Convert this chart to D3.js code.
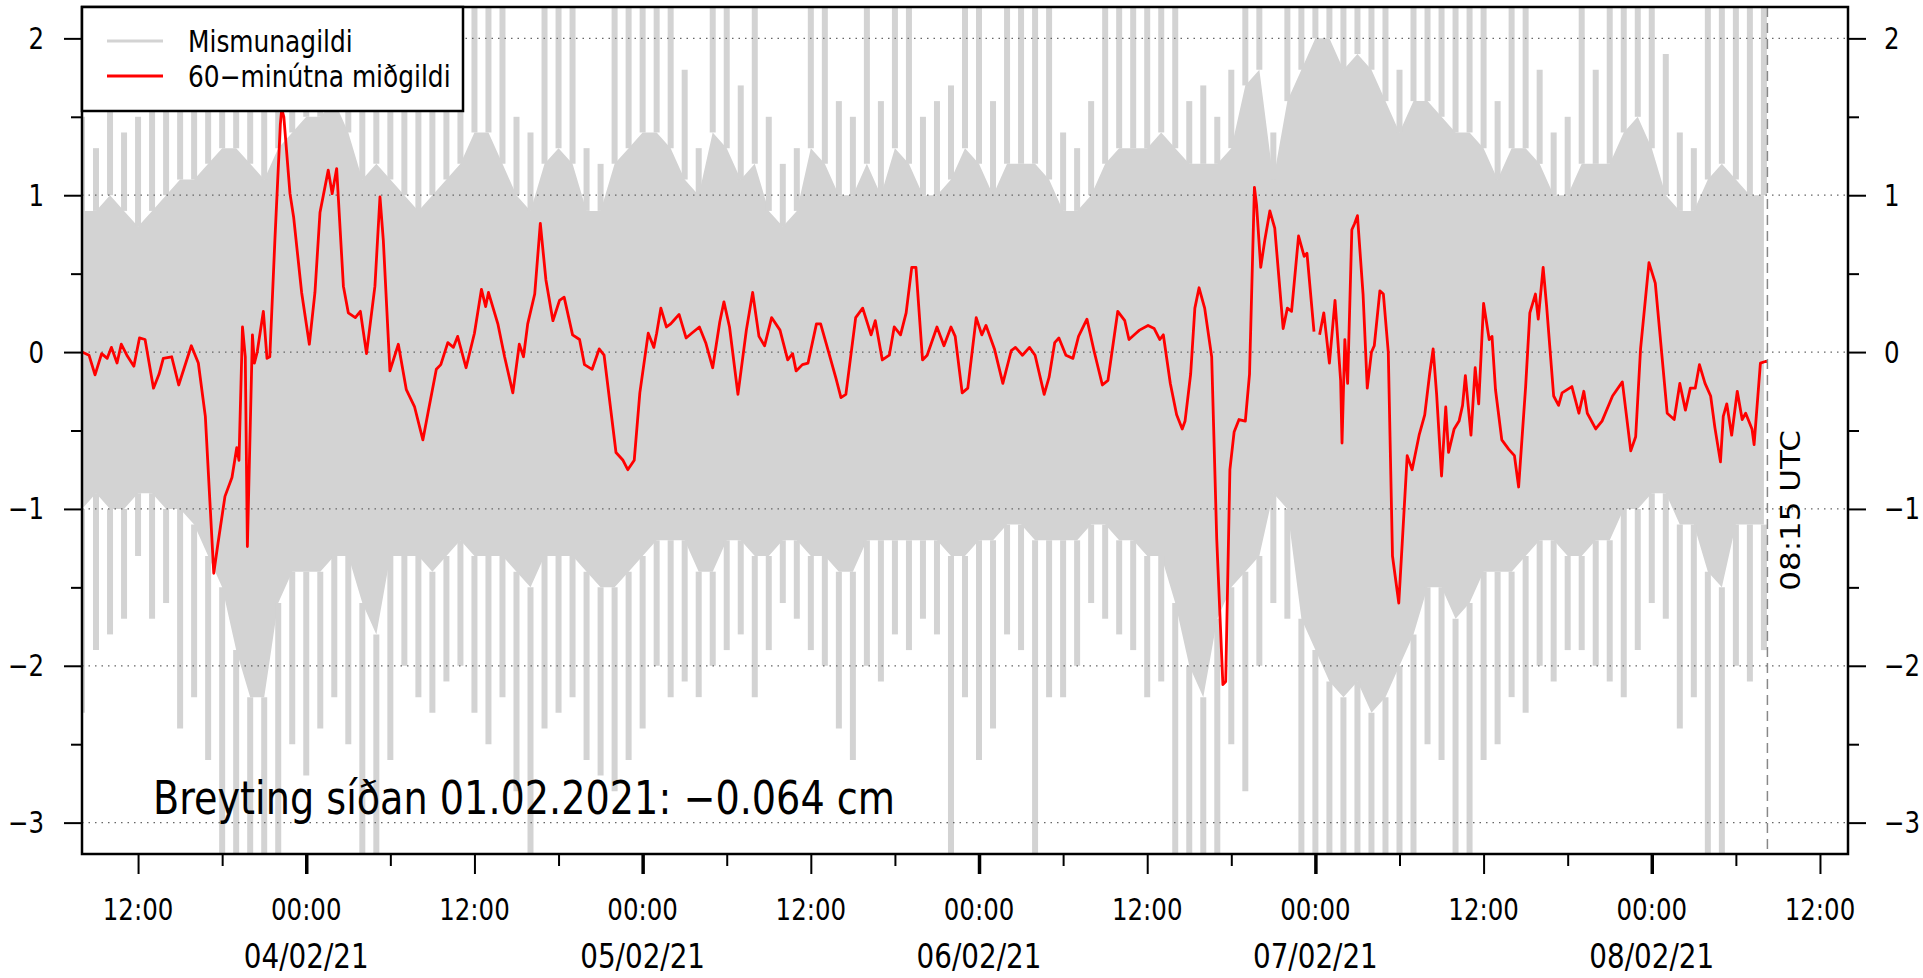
<!DOCTYPE html>
<html><head><meta charset="utf-8">
<script src="https://cdn.jsdelivr.net/npm/d3@7"></script>
<style>
html,body{margin:0;padding:0;background:#fff;overflow:hidden;}
svg{display:block;}
text{font-family:"DejaVu Sans",sans-serif;fill:#000;}
</style></head><body>
<svg id="chart" width="1923" height="978"></svg>
<script>
// ---------- data ----------
const baseTimeUTC = Date.UTC(2021, 1, 4, 0, 0);   // 04/02/21 00:00 UTC, hours are counted from here
const xLimitHours = [-16, 110];
const yLimits = [-3.2, 2.2];
const yTickValues = [-3, -2, -1, 0, 1, 2];
const yTickLabels = ["−3", "−2", "−1", "0", "1", "2"];
const yMinorTickValues = [-2.5, -1.5, -0.5, 0.5, 1.5];
const xMinorTickHours = [-6, 6, 18, 30, 42, 54, 66, 78, 90, 102];
const xTimeLabelHours = [-12, 0, 12, 24, 36, 48, 60, 72, 84, 96, 108];
const xTimeLabels = ["12:00", "00:00", "12:00", "00:00", "12:00", "00:00", "12:00", "00:00", "12:00", "00:00", "12:00"];
const dateLabelHours = [0, 24, 48, 72, 96];
const dateLabels = ["04/02/21", "05/02/21", "06/02/21", "07/02/21", "08/02/21"];
const lastObsHour = 104.25;
const lastObsLabel = "08:15 UTC";
const legendLabels = ["Mismunagildi", "60−minútna miðgildi"];
const annotationText = "Breyting síðan 01.02.2021: −0.064 cm";

// grey raw differences: hourly extremes (spikes) and dense band, starting at hour -16
const grayStartHour = -16;
const grayMax = [
  1.5,1.3,1.6,1.4,1.5,1.6,1.7,1.8,
  2.2,2.2,2.2,2.2,2.2,1.8,2.2,2.2,
  2.2,2.2,2.2,2.2,2.0,2.2,2.2,2.2,
  1.9,1.8,2.2,2.2,2.2,2.2,2.2,1.5,
  1.4,2.2,2.2,2.2,1.3,1.2,2.2,2.2,
  2.2,2.2,2.2,1.8,1.3,2.2,2.2,1.7,
  2.2,1.5,1.2,1.3,2.2,2.2,1.6,1.5,
  2.2,1.6,2.2,2.2,1.5,1.6,1.7,2.2,
  2.2,1.6,2.2,2.2,2.2,2.2,1.4,1.3,
  1.6,2.2,2.2,2.2,2.2,2.2,2.2,1.6,
  1.7,1.5,1.8,2.2,2.2,1.4,2.2,2.2,
  2.2,2.2,2.2,2.2,2.2,2.2,1.8,2.2,
  2.2,2.2,2.2,2.2,2.2,1.6,2.2,2.2,
  1.8,1.4,1.5,2.2,1.8,2.2,2.2,2.2,
  2.2,1.9,1.4,1.3,2.2,2.2,2.2,2.2,2.2];
const grayHi = [
  0.9,0.9,1.0,0.9,0.8,0.9,1.0,1.1,
  1.1,1.2,1.3,1.3,1.2,1.1,1.3,1.4,
  1.5,1.5,1.6,1.4,1.1,1.2,1.1,1.0,
  0.9,1.0,1.1,1.2,1.4,1.4,1.2,1.0,
  0.9,1.2,1.3,1.2,0.9,0.9,1.2,1.3,
  1.4,1.4,1.3,1.1,1.0,1.4,1.3,1.1,
  1.2,0.9,0.8,0.9,1.3,1.2,1.0,1.0,
  1.2,1.0,1.3,1.2,1.0,1.0,1.1,1.3,
  1.2,1.0,1.2,1.2,1.2,1.1,0.9,0.9,
  1.0,1.2,1.3,1.3,1.3,1.4,1.3,1.2,
  1.2,1.2,1.3,1.7,1.8,1.1,1.6,1.8,
  2.0,2.0,1.8,1.9,1.8,1.6,1.4,1.6,
  1.6,1.5,1.4,1.4,1.3,1.1,1.3,1.3,
  1.2,1.0,1.0,1.2,1.2,1.2,1.4,1.5,
  1.3,1.0,0.9,0.9,1.1,1.2,1.1,1.0,1.0];
const grayLo = [
  -1.0,-0.9,-1.0,-1.0,-0.9,-0.9,-1.0,-1.0,
  -1.1,-1.3,-1.5,-1.9,-2.2,-2.2,-1.6,-1.4,
  -1.4,-1.4,-1.3,-1.3,-1.6,-1.8,-1.3,-1.3,
  -1.3,-1.4,-1.3,-1.2,-1.3,-1.3,-1.3,-1.4,
  -1.5,-1.3,-1.3,-1.3,-1.4,-1.5,-1.5,-1.4,
  -1.3,-1.2,-1.2,-1.2,-1.4,-1.4,-1.2,-1.2,
  -1.3,-1.3,-1.2,-1.2,-1.3,-1.3,-1.4,-1.4,
  -1.2,-1.2,-1.2,-1.2,-1.2,-1.2,-1.3,-1.3,
  -1.2,-1.2,-1.1,-1.1,-1.2,-1.2,-1.2,-1.2,
  -1.1,-1.1,-1.2,-1.2,-1.3,-1.3,-1.6,-2.0,
  -2.2,-1.7,-1.5,-1.4,-1.3,-0.9,-1.0,-1.7,
  -1.9,-2.1,-2.2,-2.1,-2.3,-2.2,-2.0,-1.8,
  -1.5,-1.5,-1.7,-1.6,-1.4,-1.4,-1.4,-1.3,
  -1.2,-1.2,-1.3,-1.3,-1.2,-1.2,-1.0,-1.0,
  -0.9,-0.9,-1.1,-1.1,-1.4,-1.5,-1.1,-1.1,-1.1];
const grayMin = [
  -2.3,-1.9,-1.8,-1.7,-1.3,-1.7,-1.6,-2.4,
  -2.2,-2.6,-3.2,-3.2,-3.2,-3.2,-3.2,-2.5,
  -2.7,-2.4,-2.2,-2.5,-3.2,-3.2,-2.6,-2.0,
  -2.2,-2.3,-2.1,-2.0,-2.3,-2.5,-2.2,-2.8,
  -3.2,-2.4,-2.3,-2.2,-2.6,-2.7,-2.8,-2.6,
  -2.4,-2.0,-2.2,-2.1,-2.2,-2.0,-1.9,-1.8,
  -2.2,-1.9,-1.6,-1.7,-1.9,-2.0,-2.4,-2.6,
  -2.0,-2.1,-1.8,-1.9,-1.7,-1.8,-3.2,-2.2,
  -2.6,-2.4,-1.8,-1.9,-3.2,-2.2,-2.2,-2.0,
  -1.6,-1.7,-1.8,-1.9,-2.2,-2.1,-3.2,-3.2,
  -3.2,-3.2,-2.5,-2.8,-2.0,-1.6,-1.7,-3.2,
  -3.2,-3.2,-3.2,-3.2,-3.2,-3.2,-3.2,-3.2,
  -2.5,-2.6,-3.2,-3.2,-2.6,-2.5,-2.2,-2.3,
  -2.0,-2.1,-1.9,-1.9,-2.0,-2.1,-2.2,-1.9,
  -1.6,-1.7,-2.4,-2.2,-3.2,-3.2,-2.0,-2.1,-1.9];

// 60-minute median (red), hours from 04/02/21 00:00 UTC; null = gap
const redHours = [
  -16.0,-15.5,-15.07,-14.6,-14.2,-13.9,-13.5,-13.2,-12.8,-12.3,-11.9,-11.5,-10.9,-10.5,-10.2,-9.6,-9.1,-8.2,-7.7,-7.2,
  -6.6,-6.3,-5.8,-5.3,-4.96,-4.8,-4.55,-4.35,-4.2,-3.84,-3.7,-3.5,-3.06,-2.8,-2.6,-2.23,-1.85,-1.75,-1.6,-1.16,
  -0.9,-0.33,0.22,0.62,0.98,1.57,1.85,2.17,2.65,3.0,3.5,3.86,4.3,4.9,5.26,5.5,5.97,6.57,7.14,7.73,
  8.32,8.68,9.28,9.6,10.1,10.5,10.8,11.4,12.0,12.5,12.8,13.0,13.67,14.15,14.74,15.2,15.5,15.8,16.3,16.7,
  17.1,17.6,18.07,18.4,19.0,19.5,19.85,20.4,20.9,21.25,22.1,22.6,22.94,23.4,23.8,24.4,24.8,25.0,25.3,25.7,
  26.0,26.2,26.6,27.1,27.5,28.05,28.5,29.0,29.5,29.8,30.2,30.8,31.4,31.85,32.3,32.7,33.2,33.8,34.35,34.7,
  34.95,35.4,35.8,36.4,36.7,37.3,37.8,38.15,38.5,39.2,39.7,40.3,40.6,41.1,41.6,41.95,42.4,42.8,43.2,43.5,
  43.97,44.3,45.0,45.5,46.0,46.3,46.8,47.2,47.8,48.2,48.5,49.1,49.7,50.3,50.6,51.1,51.6,52.0,52.65,53.0,
  53.4,53.7,54.2,54.7,55.1,55.7,56.2,56.8,57.2,57.9,58.4,58.7,59.2,59.45,60.06,60.5,60.9,61.15,61.65,62.1,
  62.5,62.7,63.1,63.4,63.7,64.1,64.6,64.96,65.4,65.6,65.9,66.2,66.55,67.0,67.3,67.65,67.8,68.1,68.4,68.75,
  69.1,69.7,70.0,70.3,70.8,71.2,71.4,71.9,72.1,72.3,72.6,73.0,73.4,73.8,73.9,74.1,74.3,74.6,74.8,75.0,
  75.4,75.7,76.0,76.2,76.6,76.85,77.2,77.5,77.95,78.2,78.55,78.9,79.4,79.8,80.15,80.4,80.65,81.0,81.3,81.5,
  81.9,82.25,82.5,82.7,83.1,83.4,83.65,84.0,84.4,84.6,84.85,85.3,85.8,86.2,86.5,87.0,87.3,87.7,87.9,88.25,
  88.5,89.0,89.35,89.6,90.3,90.8,91.15,91.4,92.0,92.45,93.2,93.9,94.5,94.85,95.2,95.8,96.25,97.1,97.6,98.0,
  98.4,98.75,99.1,99.4,99.8,100.2,100.5,100.9,101.1,101.35,101.7,102.1,102.45,102.7,103.15,103.3,103.75,104.1,104.25];
const redValues = [
  0.00,-0.02,-0.145,-0.01,-0.04,0.03,-0.07,0.05,-0.02,-0.09,0.09,0.08,-0.23,-0.14,-0.04,-0.03,-0.21,0.04,-0.07,-0.41,
  -1.41,-1.22,-0.92,-0.80,-0.61,-0.69,0.16,-0.03,-1.24,0.11,-0.07,0.00,0.26,-0.04,-0.03,0.73,1.45,1.55,1.50,1.01,
  0.86,0.38,0.05,0.38,0.89,1.16,1.01,1.17,0.42,0.25,0.22,0.26,-0.01,0.42,0.99,0.71,-0.12,0.05,-0.24,-0.35,
  -0.56,-0.39,-0.11,-0.08,0.06,0.03,0.10,-0.10,0.12,0.40,0.29,0.38,0.18,-0.03,-0.26,0.05,-0.03,0.18,0.37,0.82,
  0.46,0.20,0.33,0.35,0.11,0.08,-0.08,-0.11,0.02,-0.02,-0.64,-0.69,-0.75,-0.69,-0.26,0.12,0.03,0.12,0.28,0.16,
  0.18,0.20,0.24,0.09,0.12,0.16,0.06,-0.10,0.19,0.32,0.16,-0.27,0.14,0.38,0.10,0.04,0.22,0.14,-0.05,-0.01,
  -0.12,-0.08,-0.07,0.18,0.18,-0.01,-0.17,-0.29,-0.27,0.22,0.28,0.11,0.20,-0.05,-0.02,0.16,0.11,0.25,0.54,0.54,
  -0.05,-0.02,0.16,0.04,0.16,0.10,-0.26,-0.23,0.22,0.11,0.17,0.02,-0.20,0.01,0.03,-0.02,0.03,-0.02,-0.27,-0.16,
  0.06,0.09,-0.02,-0.04,0.10,0.21,0.01,-0.21,-0.18,0.26,0.20,0.08,0.12,0.14,0.17,0.15,0.08,0.11,-0.20,-0.40,
  -0.49,-0.44,-0.14,0.28,0.41,0.28,-0.03,-1.19,-2.12,-2.10,-0.75,-0.51,-0.43,-0.44,-0.14,1.05,0.94,0.54,0.72,0.90,
  0.79,0.15,0.28,0.26,0.74,0.61,0.63,0.13,null,0.11,0.25,-0.07,0.33,-0.18,-0.58,0.08,-0.20,0.78,0.82,0.87,
  0.37,-0.23,0.00,0.04,0.39,0.37,0.00,-1.30,-1.60,-1.21,-0.66,-0.75,-0.53,-0.40,-0.14,0.02,-0.27,-0.79,-0.35,-0.64,
  -0.49,-0.44,-0.34,-0.15,-0.53,-0.10,-0.33,0.31,0.08,0.10,-0.24,-0.56,-0.62,-0.66,-0.86,-0.22,0.25,0.37,0.21,0.54,
  0.29,-0.28,-0.34,-0.26,-0.22,-0.39,-0.25,-0.39,-0.49,-0.44,-0.28,-0.19,-0.63,-0.54,0.02,0.57,0.44,-0.39,-0.43,-0.20,
  -0.37,-0.23,-0.23,-0.08,-0.20,-0.28,-0.48,-0.70,-0.41,-0.33,-0.53,-0.25,-0.43,-0.39,-0.49,-0.59,-0.07,-0.06,-0.06];

// ---------- drawing ----------
const SX = 0.83; // horizontal glyph compression seen in the reference
const W = 1923, H = 978;
const plot = {left: 82, right: 1848, top: 7, bottom: 854};
const toDate = h => new Date(baseTimeUTC + h * 3600e3);

const x = d3.scaleUtc().domain(xLimitHours.map(toDate)).range([plot.left, plot.right]);
const y = d3.scaleLinear().domain(yLimits).range([plot.bottom, plot.top]);

const svg = d3.select("#chart");
svg.append("rect").attr("width", W).attr("height", H).attr("fill", "#fff");

svg.append("defs").append("clipPath").attr("id", "clip")
  .append("rect").attr("x", plot.left).attr("y", plot.top)
  .attr("width", plot.right - plot.left).attr("height", plot.bottom - plot.top);

const gPlot = svg.append("g").attr("clip-path", "url(#clip)");

// grey band
const grayData = grayHi.map((v, i) => ({h: grayStartHour + i, hi: v, lo: grayLo[i], max: grayMax[i], min: grayMin[i]}));
gPlot.append("path").datum(grayData)
  .attr("fill", "#d3d3d3")
  .attr("d", d3.area().x(d => x(toDate(d.h))).y0(d => y(d.lo)).y1(d => y(d.hi)));
gPlot.append("g").selectAll("line").data(grayData).join("line")
  .attr("x1", d => x(toDate(d.h))).attr("x2", d => x(toDate(d.h)))
  .attr("y1", d => y(d.hi)).attr("y2", d => y(d.max))
  .attr("stroke", "#d3d3d3").attr("stroke-width", 6);
gPlot.append("g").selectAll("line").data(grayData).join("line")
  .attr("x1", d => x(toDate(d.h))).attr("x2", d => x(toDate(d.h)))
  .attr("y1", d => y(d.lo)).attr("y2", d => y(d.min))
  .attr("stroke", "#d3d3d3").attr("stroke-width", 6);

// dotted horizontal grid
gPlot.append("g").selectAll("line").data(yTickValues).join("line")
  .attr("x1", plot.left).attr("x2", plot.right)
  .attr("y1", d => y(d)).attr("y2", d => y(d))
  .attr("stroke", "#666").attr("stroke-width", 1.2).attr("stroke-dasharray", "1.5,5");

// red median line
const redData = redHours.map((h, i) => ({h, v: redValues[i]}));
gPlot.append("path").datum(redData)
  .attr("fill", "none").attr("stroke", "#ff0000").attr("stroke-width", 2.8)
  .attr("stroke-linejoin", "round")
  .attr("d", d3.line().defined(d => d.v !== null).x(d => x(toDate(d.h))).y(d => y(d.v)));

// last observation dashed line
svg.append("line")
  .attr("x1", x(toDate(lastObsHour))).attr("x2", x(toDate(lastObsHour)))
  .attr("y1", plot.top).attr("y2", plot.bottom)
  .attr("stroke", "#888").attr("stroke-width", 1.5).attr("stroke-dasharray", "10,6");

function label(parent, px, py, str, size, anchor, rotate) {
  return parent.append("text")
    .attr("transform", `translate(${px},${py}) scale(${SX},1)` + (rotate ? ` rotate(${rotate})` : ""))
    .attr("text-anchor", anchor).attr("font-size", size).text(str);
}

label(svg, x(toDate(lastObsHour)) + 33, (plot.top + plot.bottom) / 2 + 80, lastObsLabel, 31, "middle", -90);

// box
svg.append("rect").attr("x", plot.left).attr("y", plot.top)
  .attr("width", plot.right - plot.left).attr("height", plot.bottom - plot.top)
  .attr("fill", "none").attr("stroke", "#000").attr("stroke-width", 2.5);

// y axes
function yAxes(axisFn, xPos) {
  const gMaj = svg.append("g").attr("transform", `translate(${xPos},0)`)
    .call(axisFn(y).tickValues(yTickValues).tickSize(18).tickFormat(""));
  const gMin = svg.append("g").attr("transform", `translate(${xPos},0)`)
    .call(axisFn(y).tickValues(yMinorTickValues).tickSize(11).tickFormat(""));
  [gMaj, gMin].forEach(g => {
    g.select(".domain").remove();
    g.selectAll("line").attr("stroke", "#000").attr("stroke-width", 2);
  });
}
yAxes(d3.axisLeft, plot.left);
yAxes(d3.axisRight, plot.right);
const gYL = svg.append("g");
yTickValues.forEach((v, i) => {
  label(gYL, 44, y(v) + 10.5, yTickLabels[i], 29.5, "end");
  label(gYL, 1884, y(v) + 10.5, yTickLabels[i], 29.5, "start");
});

// x axis
const gXmin = svg.append("g").attr("transform", `translate(0,${plot.bottom})`)
  .call(d3.axisBottom(x).tickValues(xMinorTickHours.map(toDate)).tickSize(12).tickFormat(""));
const gXmaj = svg.append("g").attr("transform", `translate(0,${plot.bottom})`)
  .call(d3.axisBottom(x).tickValues(xTimeLabelHours.map(toDate)).tickSize(20).tickFormat(""));
[gXmin, gXmaj].forEach(g => {
  g.select(".domain").remove();
  g.selectAll("line").attr("stroke", "#000").attr("stroke-width", 2);
});
gXmaj.selectAll(".tick line").attr("stroke-width", d => (d.getUTCHours() === 0 ? 3.5 : 2));

const gXL = svg.append("g");
xTimeLabelHours.forEach((h, i) => label(gXL, x(toDate(h)), 920, xTimeLabels[i], 29.5, "middle"));
dateLabelHours.forEach((h, i) => label(gXL, x(toDate(h)), 968, dateLabels[i], 33.5, "middle"));

// annotation
label(svg, 153, 814, annotationText, 46, "start");

// legend
const gLeg = svg.append("g");
gLeg.append("rect").attr("x", plot.left).attr("y", plot.top).attr("width", 381).attr("height", 104)
  .attr("fill", "#fff").attr("stroke", "#000").attr("stroke-width", 2.5);
const legColors = ["#d3d3d3", "#ff0000"];
const legY = [41, 76];
legendLabels.forEach((t, i) => {
  gLeg.append("line").attr("x1", 107).attr("x2", 163).attr("y1", legY[i]).attr("y2", legY[i])
    .attr("stroke", legColors[i]).attr("stroke-width", 3);
  label(gLeg, 188, legY[i] + 11, t, 30, "start");
});
</script>
</body></html>
